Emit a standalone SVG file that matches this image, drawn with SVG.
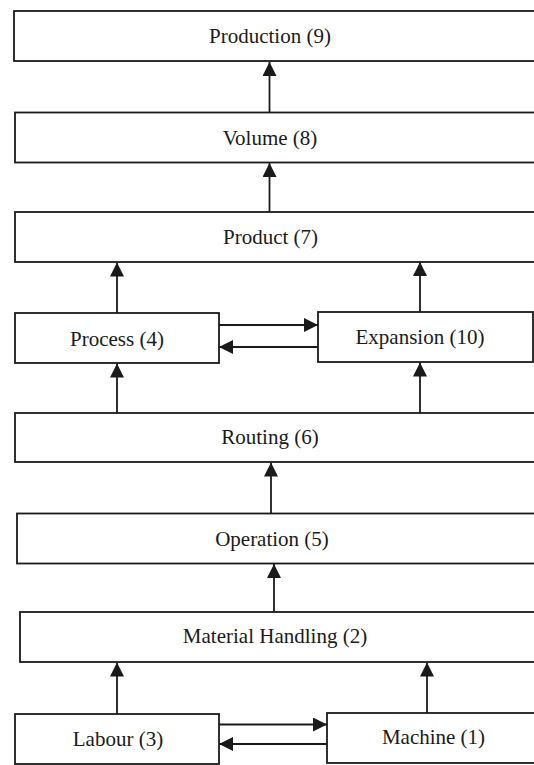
<svg xmlns="http://www.w3.org/2000/svg" width="534" height="765" viewBox="0 0 534 765">
<style>
.box{fill:#fff;stroke:#1a1a1a;stroke-width:1.8}
.lbl{font-family:"Liberation Serif","Times New Roman",serif;font-size:21px;fill:#1a1a1a;text-anchor:middle}
.edge{stroke:#1a1a1a;stroke-width:1.8;fill:none;marker-end:url(#ah)}
</style>
<defs>
<marker id="ah" markerUnits="userSpaceOnUse" markerWidth="15" markerHeight="14" refX="14" refY="7" orient="auto">
<path d="M0,0 L14,7 L0,14 z" fill="#1a1a1a"/>
</marker>
</defs>
<rect width="534" height="765" fill="#fff"/>
<g id="production"><rect class="box" x="14" y="11" width="530" height="50"/><text class="lbl" x="270" y="43">Production (9)</text></g>
<g id="volume"><rect class="box" x="15" y="112.5" width="530" height="50"/><text class="lbl" x="270" y="145">Volume (8)</text></g>
<g id="product"><rect class="box" x="15" y="212" width="530" height="50"/><text class="lbl" x="270.5" y="244">Product (7)</text></g>
<g id="process"><rect class="box" x="15" y="313" width="204" height="50"/><text class="lbl" x="117" y="345.5">Process (4)</text></g>
<g id="expansion"><rect class="box" x="318" y="312" width="215" height="50"/><text class="lbl" x="420" y="344">Expansion (10)</text></g>
<g id="routing"><rect class="box" x="15" y="413" width="530" height="49"/><text class="lbl" x="270" y="444">Routing (6)</text></g>
<g id="operation"><rect class="box" x="17" y="513.5" width="530" height="50"/><text class="lbl" x="272" y="545.5">Operation (5)</text></g>
<g id="material-handling"><rect class="box" x="20" y="612" width="530" height="50"/><text class="lbl" x="275" y="643">Material Handling (2)</text></g>
<g id="labour"><rect class="box" x="15" y="714" width="204" height="50"/><text class="lbl" x="118" y="746">Labour (3)</text></g>
<g id="machine"><rect class="box" x="327" y="713" width="220" height="50"/><text class="lbl" x="433.5" y="744">Machine (1)</text></g>
<g id="connectors">
<path class="edge" d="M269.5,112.5 V62"/>
<path class="edge" d="M269.5,212 V163"/>
<path class="edge" d="M117,313 V262.5"/>
<path class="edge" d="M420,312 V262"/>
<path class="edge" d="M117,413 V363.5"/>
<path class="edge" d="M420,413 V362.5"/>
<path class="edge" d="M271,513.5 V462.5"/>
<path class="edge" d="M274,612 V564"/>
<path class="edge" d="M117,714 V662.5"/>
<path class="edge" d="M427,713 V662.5"/>
<path class="edge" d="M219,325 H318"/>
<path class="edge" d="M318,347 H219"/>
<path class="edge" d="M219,724.5 H327"/>
<path class="edge" d="M327,744 H219"/>
</g>
</svg>
